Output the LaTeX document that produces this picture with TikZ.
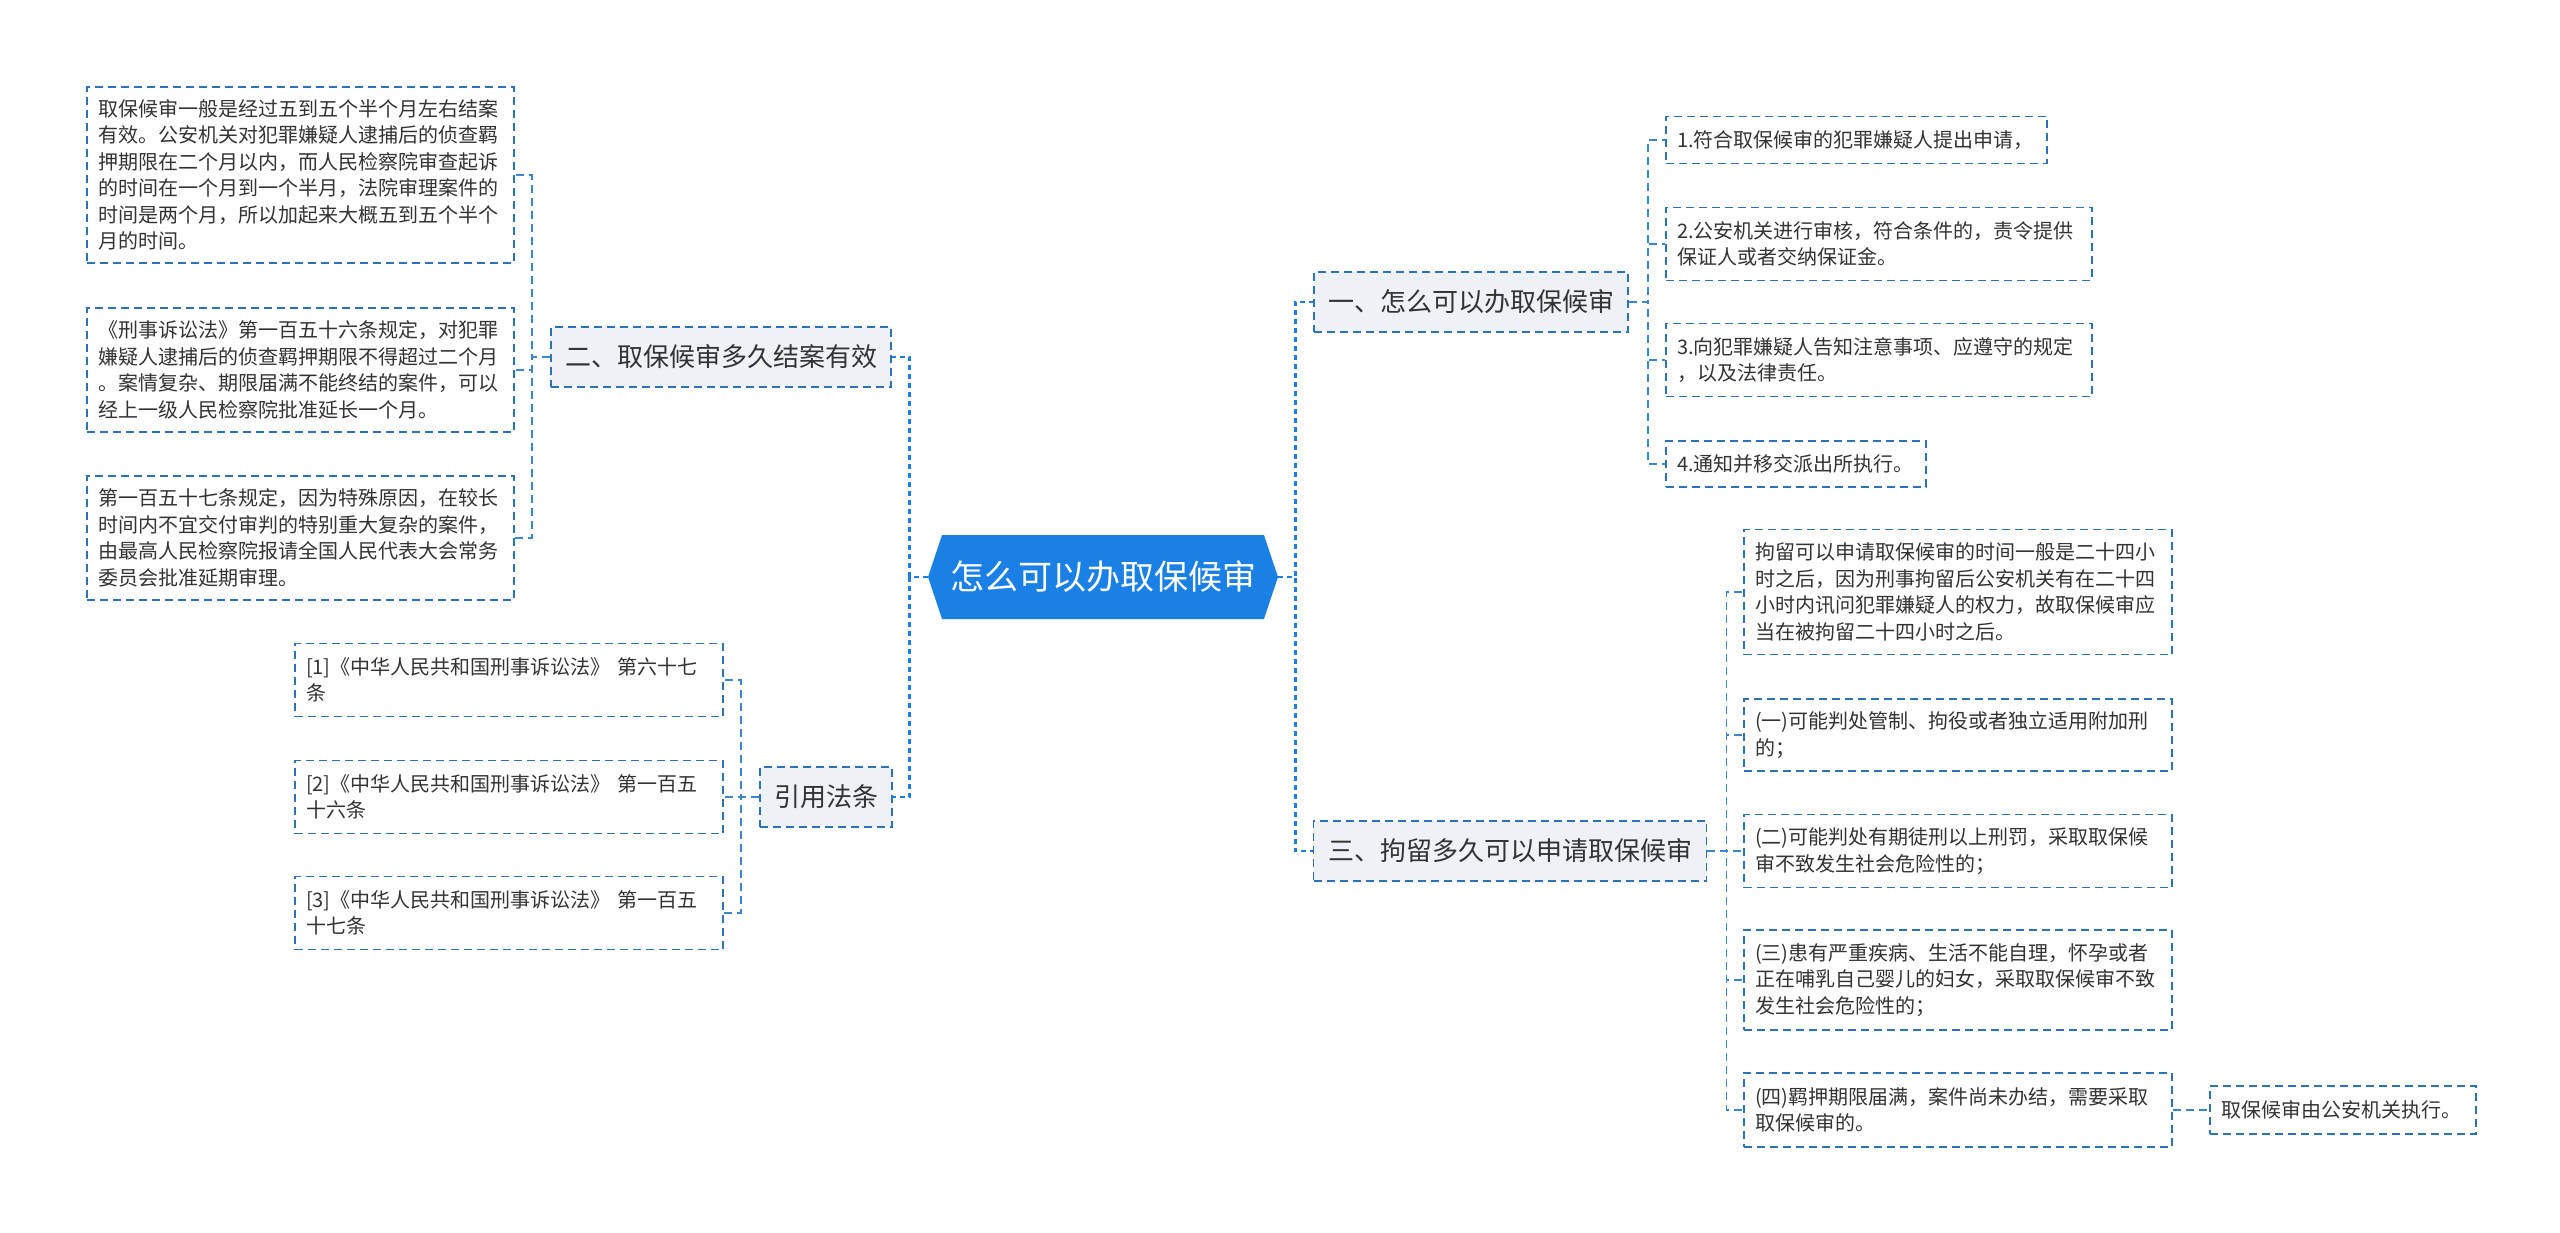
\documentclass[tikz,border=0pt]{standalone}
\usepackage{fontspec}
\newfontfamily\cjk{Noto Sans CJK SC}
\usetikzlibrary{shapes.symbols}
\definecolor{rootblue}{HTML}{1A80E6}
\definecolor{edgeblue}{HTML}{2B72B8}
\definecolor{linkblue}{HTML}{3A86D2}
\definecolor{branchfill}{HTML}{EEF1F5}
\definecolor{ink}{HTML}{333333}
\tikzset{
  rootnode/.style={signal, signal to=west and east, signal pointer angle=143, fill=rootblue, text=white, minimum width=350pt, minimum height=84pt, inner sep=0pt, font=\cjk\fontsize{34}{40}\selectfont},
  branch/.style={draw=edgeblue, line width=1.8pt, dash pattern=on 8pt off 5pt, fill=branchfill, text=ink, minimum height=60pt, inner sep=0pt, font=\cjk\fontsize{26}{32}\selectfont},
  leaf/.style={draw=edgeblue, line width=1.8pt, dash pattern=on 8pt off 5pt, fill=white, text=ink, align=left, inner xsep=11pt, inner ysep=0pt, font=\cjk\fontsize{20}{26.5}\selectfont},
  rootlink/.style={draw=rootblue, line width=2.6pt, dash pattern=on 5pt off 4pt},
  link/.style={draw=linkblue, line width=1.8pt, dash pattern=on 8pt off 5pt}
}
\begin{document}
\begin{tikzpicture}[x=1pt,y=-1pt]
  \path[fill=white, use as bounding box] (0,0) rectangle (2560,1233);
  \node[rootnode] (root) at (1103,577) {怎么可以办取保候审};
  \node[branch,minimum width=340pt] (howlong) at (721,357) {二、取保候审多久结案有效};
  \node[branch,minimum width=132pt] (laws) at (826,797) {引用法条};
  \node[branch,minimum width=314pt] (howto) at (1471,302) {一、怎么可以办取保候审};
  \node[branch,minimum width=393pt] (detain) at (1510,851) {三、拘留多久可以申请取保候审};
  \node[leaf,text width=405pt,minimum height=176pt] (term1) at (300.5,175) {取保候审一般是经过五到五个半个月左右结案\\有效。公安机关对犯罪嫌疑人逮捕后的侦查羁\\押期限在二个月以内，而人民检察院审查起诉\\的时间在一个月到一个半月，法院审理案件的\\时间是两个月，所以加起来大概五到五个半个\\月的时间。};
  \node[leaf,text width=405pt,minimum height=124pt] (term2) at (300.5,370) {《刑事诉讼法》第一百五十六条规定，对犯罪\\嫌疑人逮捕后的侦查羁押期限不得超过二个月\\。案情复杂、期限届满不能终结的案件，可以\\经上一级人民检察院批准延长一个月。};
  \node[leaf,text width=405pt,minimum height=124pt] (term3) at (300.5,538) {第一百五十七条规定，因为特殊原因，在较长\\时间内不宜交付审判的特别重大复杂的案件，\\由最高人民检察院报请全国人民代表大会常务\\委员会批准延期审理。};
  \node[leaf,text width=406pt,minimum height=73pt] (law1) at (509,680) {[1]《中华人民共和国刑事诉讼法》~第六十七\\条};
  \node[leaf,text width=406pt,minimum height=73pt] (law2) at (509,797) {[2]《中华人民共和国刑事诉讼法》~第一百五\\十六条};
  \node[leaf,text width=406pt,minimum height=73pt] (law3) at (509,913) {[3]《中华人民共和国刑事诉讼法》~第一百五\\十七条};
  \node[leaf,text width=359pt,minimum height=47pt] (apply1) at (1856.5,140) {1.符合取保候审的犯罪嫌疑人提出申请，};
  \node[leaf,text width=404pt,minimum height=73pt] (apply2) at (1879,244) {2.公安机关进行审核，符合条件的，责令提供\\保证人或者交纳保证金。};
  \node[leaf,text width=404pt,minimum height=73pt] (apply3) at (1879,360) {3.向犯罪嫌疑人告知注意事项、应遵守的规定\\，以及法律责任。};
  \node[leaf,text width=238pt,minimum height=46pt] (apply4) at (1796,464) {4.通知并移交派出所执行。};
  \node[leaf,text width=406pt,minimum height=125pt] (case1) at (1958,592) {拘留可以申请取保候审的时间一般是二十四小\\时之后，因为刑事拘留后公安机关有在二十四\\小时内讯问犯罪嫌疑人的权力，故取保候审应\\当在被拘留二十四小时之后。};
  \node[leaf,text width=406pt,minimum height=72pt] (case2) at (1958,735) {(一)可能判处管制、拘役或者独立适用附加刑\\的；};
  \node[leaf,text width=406pt,minimum height=73pt] (case3) at (1958,851) {(二)可能判处有期徒刑以上刑罚，采取取保候\\审不致发生社会危险性的；};
  \node[leaf,text width=406pt,minimum height=100pt] (case4) at (1958,980) {(三)患有严重疾病、生活不能自理，怀孕或者\\正在哺乳自己婴儿的妇女，采取取保候审不致\\发生社会危险性的；};
  \node[leaf,text width=406pt,minimum height=74pt] (case5) at (1958,1110) {(四)羁押期限届满，案件尚未办结，需要采取\\取保候审的。};
  \node[leaf,text width=244pt,minimum height=48pt] (exec) at (2343,1110) {取保候审由公安机关执行。};
  \draw[rootlink] (root.west) -- ++(-18,0) |- (howlong.east);
  \draw[rootlink] (root.west) -- ++(-18,0) |- (laws.east);
  \draw[rootlink] (root.east) -- ++(17,0) |- (howto.west);
  \draw[rootlink] (root.east) -- ++(17,0) |- (detain.west);
  \draw[link] (howlong.west) -- ++(-18,0) |- (term1.east);
  \draw[link] (howlong.west) -- ++(-18,0) |- (term2.east);
  \draw[link] (howlong.west) -- ++(-18,0) |- (term3.east);
  \draw[link] (laws.west) -- ++(-18,0) |- (law1.east);
  \draw[link] (laws.west) -- ++(-18,0) |- (law2.east);
  \draw[link] (laws.west) -- ++(-18,0) |- (law3.east);
  \draw[link] (howto.east) -- ++(19,0) |- (apply1.west);
  \draw[link] (howto.east) -- ++(19,0) |- (apply2.west);
  \draw[link] (howto.east) -- ++(19,0) |- (apply3.west);
  \draw[link] (howto.east) -- ++(19,0) |- (apply4.west);
  \draw[link] (detain.east) -- ++(19,0) |- (case1.west);
  \draw[link] (detain.east) -- ++(19,0) |- (case2.west);
  \draw[link] (detain.east) -- ++(19,0) |- (case3.west);
  \draw[link] (detain.east) -- ++(19,0) |- (case4.west);
  \draw[link] (detain.east) -- ++(19,0) |- (case5.west);
  \draw[link] (case5.east) -- (exec.west);
\end{tikzpicture}
\end{document}
